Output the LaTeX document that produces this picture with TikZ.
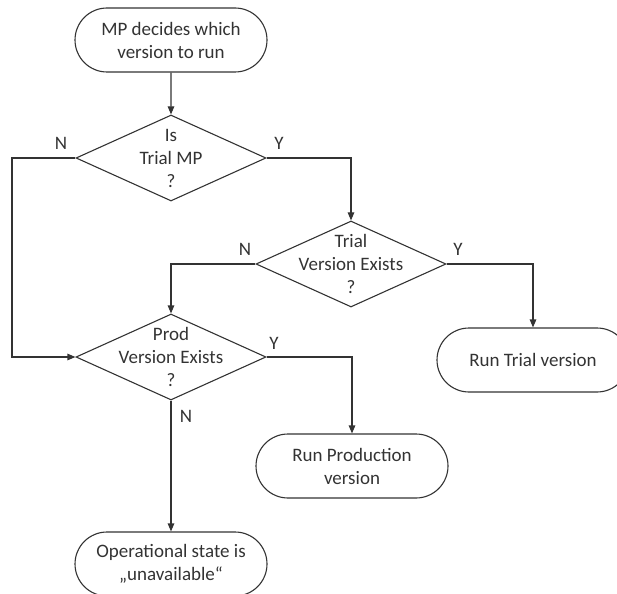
\documentclass[tikz,border=0pt]{standalone}
\usepackage{fontspec}
\setmainfont{Carlito}
\usetikzlibrary{shapes.geometric,shapes.misc,arrows.meta}
\begin{document}
\begin{tikzpicture}[x=1pt,y=-1pt,
  every node/.style={font=\fontsize{19}{23}\selectfont, text=black!80},
  terminal/.style={draw=black!80, line width=1.1pt, rounded rectangle, minimum width=192pt, minimum height=64pt, inner sep=0pt, align=center},
  decision/.style={draw=black!80, line width=1.1pt, diamond, minimum width=190pt, minimum height=86pt, inner sep=0pt},
  inlabel/.style={align=center, inner sep=0pt},
  flow/.style={draw=black!80, line width=1.1pt, -{Triangle[length=8pt,width=6.5pt]}},
  yn/.style={inner sep=0pt}]
\useasboundingbox (0,0) rectangle (617,593);
\node[terminal] (start) at (171,40) {MP decides which\\version to run};
\node[decision, label={[inlabel]center:Is\\Trial MP\\?}] (d1) at (171,158) {};
\node[decision, label={[inlabel]center:Trial\\Version Exists\\?}] (d2) at (351,264) {};
\node[decision, label={[inlabel]center:Prod\\Version Exists\\?}] (d3) at (171,357) {};
\node[terminal] (trial) at (533,360) {Run Trial version};
\node[terminal] (prod) at (352,466) {Run Production\\version};
\node[terminal] (op) at (171,564) {Operational state is\\„unavailable“};
\coordinate (lft) at (12,158);
\draw[flow] (start) -- (d1);
\draw[flow] (d1.west) -- (lft) |- (d3.west);
\draw[flow] (d1.east) -| (d2.north);
\draw[flow] (d2.east) -| (trial.north);
\draw[flow] (d2.west) -| (d3.north);
\draw[flow] (d3.east) -| (prod.north);
\draw[flow] (d3.south) -- (op.north);
\node[yn] (n1) at (61,143) {N};
\node[yn] (y1) at (279,143) {Y};
\node[yn] (n2) at (245,249) {N};
\node[yn] (y2) at (458,249) {Y};
\node[yn] (y3) at (274,343) {Y};
\node[yn] (n3) at (186,416) {N};
\end{tikzpicture}
\end{document}
